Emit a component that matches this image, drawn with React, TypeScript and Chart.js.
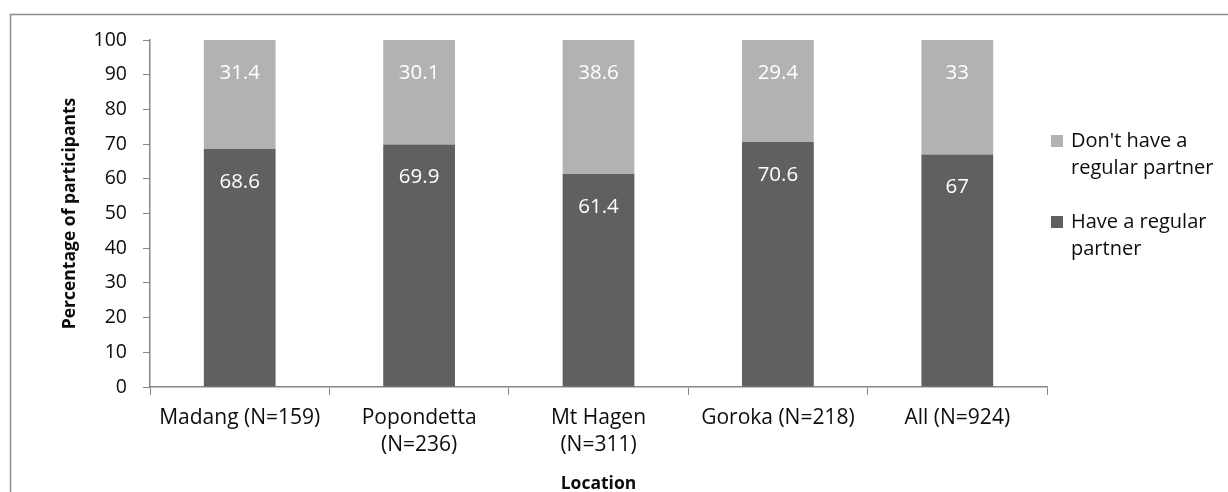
import React, { useEffect, useRef } from "react";
import { Chart, registerables } from "chart.js";

Chart.register(...registerables);

const categories: (string | string[])[] = [
  "Madang (N=159)",
  ["Popondetta", "(N=236)"],
  ["Mt Hagen", "(N=311)"],
  "Goroka (N=218)",
  "All (N=924)",
];
const haveRegular = [68.6, 69.9, 61.4, 70.6, 67];
const noRegular = [31.4, 30.1, 38.6, 29.4, 33];
const seriesNames = ["Have a regular partner", "Don't have a regular partner"];
const legendLines = [["Have a regular", "partner"], ["Don't have a", "regular partner"]];
const yTicks = [0, 10, 20, 30, 40, 50, 60, 70, 80, 90, 100];

const DARK = "#606060";
const LIGHT = "#b2b2b2";
const AXIS = "#868686";
const TEXT = "#0d0d0d";
const FONT = "'Open Sans', sans-serif";

const extras = {
  id: "extras",
  afterDraw(chart: any) {
    const ctx = chart.ctx;
    ctx.save();
    // outer frame
    ctx.strokeStyle = "#8c8c8c";
    ctx.lineWidth = 1.5;
    ctx.strokeRect(10.5, 14.5, 1400, 700);
    // data labels
    ctx.fillStyle = "#ffffff";
    ctx.font = `20.5px ${FONT}`;
    ctx.textAlign = "center";
    ctx.textBaseline = "middle";
    chart.data.datasets.forEach((ds: any, di: number) => {
      const meta = chart.getDatasetMeta(di);
      meta.data.forEach((bar: any, i: number) => {
        ctx.fillText(String(ds.data[i]), bar.x, bar.y + 33);
      });
    });
    // legend (reverse order)
    ctx.textAlign = "left";
    ctx.font = `20px ${FONT}`;
    const items = [
      { color: LIGHT, lines: legendLines[1], y: 141 },
      { color: DARK, lines: legendLines[0], y: 222 },
    ];
    items.forEach((it) => {
      ctx.fillStyle = it.color;
      ctx.fillRect(1051, it.y - 6, 12, 12);
      ctx.fillStyle = TEXT;
      it.lines.forEach((ln, k) => ctx.fillText(ln, 1071, it.y + k * 27));
    });
    ctx.restore();
  },
};

export default function App() {
  const ref = useRef<HTMLCanvasElement>(null);
  useEffect(() => {
    if (!ref.current) return;
    const chart = new Chart(ref.current, {
      type: "bar",
      data: {
        labels: categories as any,
        datasets: [
          { label: seriesNames[0], data: haveRegular, backgroundColor: DARK, barPercentage: 0.4, categoryPercentage: 1 },
          { label: seriesNames[1], data: noRegular, backgroundColor: LIGHT, barPercentage: 0.4, categoryPercentage: 1 },
        ],
      },
      options: {
        animation: false,
        responsive: false,
        devicePixelRatio: 1,
        layout: { padding: { left: 0, top: 40, right: 181, bottom: 0 } },
        plugins: { legend: { display: false }, tooltip: { enabled: false } },
        scales: {
          x: {
            stacked: true,
            offset: true,
            grid: { display: true, offset: true, drawOnChartArea: false, drawTicks: true, tickLength: 8, color: AXIS },
            border: { color: AXIS, width: 1.5 },
            ticks: { color: TEXT, font: { family: FONT, size: 21, lineHeight: 1.3 }, padding: 9, maxRotation: 0, autoSkip: false },
            title: { display: true, text: "Location", color: TEXT, font: { family: FONT, size: 17.5, weight: "bold" }, padding: { top: 0, bottom: -3 } },
            afterFit: (s: any) => { s.height = 105; },
          },
          y: {
            stacked: true,
            min: 0,
            max: 100,
            afterBuildTicks: (s: any) => { s.ticks = yTicks.map((v) => ({ value: v })); },
            grid: { display: true, drawOnChartArea: false, drawTicks: true, tickLength: 7, color: AXIS },
            border: { color: AXIS, width: 1.5 },
            ticks: { color: TEXT, font: { family: FONT, size: 19.5 }, padding: 16 },
            title: { display: true, text: "Percentage of participants", color: TEXT, font: { family: FONT, size: 17.5, weight: "bold" }, padding: { top: 60, bottom: 0 } },
            afterFit: (s: any) => { s.width = 150; },
          },
        },
      },
      plugins: [extras],
    });
    return () => chart.destroy();
  }, []);
  return (
    <div style={{ position: "absolute", left: 0, top: 0, width: 1228, height: 492, background: "#fff" }}>
      <canvas ref={ref} width={1228} height={492} style={{ width: 1228, height: 492, display: "block" }} />
    </div>
  );
}
